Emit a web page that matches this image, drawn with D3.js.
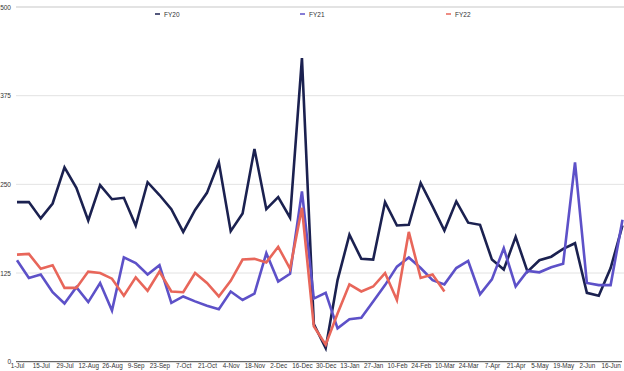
<!DOCTYPE html>
<html><head><meta charset="utf-8">
<script src="https://cdn.jsdelivr.net/npm/d3@7"></script>
<style>html,body{margin:0;padding:0;background:#fff;}svg{display:block;font-family:"Liberation Sans",Arial,sans-serif;}</style>
</head><body><svg id="c" width="624" height="371"></svg>
<script>
const weeks = ["1-Jul","8-Jul","15-Jul","22-Jul","29-Jul","5-Aug","12-Aug","19-Aug","26-Aug","2-Sep","9-Sep","16-Sep","23-Sep","30-Sep","7-Oct","14-Oct","21-Oct","28-Oct","4-Nov","11-Nov","18-Nov","25-Nov","2-Dec","9-Dec","16-Dec","23-Dec","30-Dec","6-Jan","13-Jan","20-Jan","27-Jan","3-Feb","10-Feb","17-Feb","24-Feb","3-Mar","10-Mar","17-Mar","24-Mar","31-Mar","7-Apr","14-Apr","21-Apr","28-Apr","5-May","12-May","19-May","26-May","2-Jun","9-Jun","16-Jun","23-Jun"];
const fy20 = [225,225,202,223,274,245,199,249,229,231,192,253,235,215,183,214,238,281,184,209,300,215,232,203,428,53,19,115,179,145,144,225,192,193,252,219,185,226,196,193,144,130,176,127,143,148,159,167,97,93,132,192];
const fy21 = [143,118,123,98,82,105,84,111,72,147,139,123,136,83,92,85,79,74,99,87,96,153,113,124,240,89,97,47,60,62,85,108,134,147,132,115,109,132,142,95,116,160,106,128,126,133,138,281,111,108,108,200];
const fy22 = [151,152,131,136,104,104,127,125,117,93,119,100,127,99,98,125,111,92,114,144,145,140,162,131,217,50,24,68,109,99,106,125,87,183,118,123,99];
const seriesNames = ["FY20","FY21","FY22"];
const colors = ["#1b2150","#5d51c8","#e8665a"];
const yTicks = [0,125,250,375,500];

const svg = d3.select("#c");
const x = d3.scalePoint().domain(weeks).range([17, 622.5]);
const y = d3.scaleLinear().domain([0,500]).range([361.7, 7]);

svg.append("g").selectAll("line").data(yTicks.filter(d=>d>0)).join("line")
  .attr("x1",16).attr("x2",624).attr("y1",d=>y(d)).attr("y2",d=>y(d))
  .attr("stroke","#e3e3e3").attr("stroke-width",d=>d===500?2:1);

svg.append("g").selectAll("text").data(yTicks).join("text")
  .attr("x",11).attr("y",d=>y(d)+2.5).attr("text-anchor","end")
  .attr("font-size",6.5).attr("fill","#333").text(d=>d);

const xAxis = d3.axisBottom(x).tickValues(weeks.filter((d,i)=>i%2===0)).tickSize(0).tickPadding(2);
const gx = svg.append("g").attr("transform",`translate(0,${y(0)})`).call(xAxis);
gx.select(".domain").attr("stroke","#444").attr("stroke-width",1).attr("d","M16,0H622");
gx.selectAll("text").attr("font-size",6.3).attr("fill","#333").attr("font-family","Liberation Sans, Arial, sans-serif");

const line = d3.line().x((d,i)=>x(weeks[i])).y(d=>y(d));
[fy20,fy21,fy22].forEach((s,k)=>{
  svg.append("path").datum(s).attr("d",line).attr("fill","none")
    .attr("stroke",colors[k]).attr("stroke-width",2.6).attr("stroke-linejoin","miter");
});

const legX = [155,300,446];
const lg = svg.append("g");
seriesNames.forEach((n,k)=>{
  lg.append("line").attr("x1",legX[k]).attr("x2",legX[k]+5).attr("y1",14).attr("y2",14)
    .attr("stroke",colors[k]).attr("stroke-width",1.5);
  lg.append("text").attr("x",legX[k]+9).attr("y",16.5).attr("font-size",6.5).attr("fill","#333").text(n);
});
</script></body></html>
